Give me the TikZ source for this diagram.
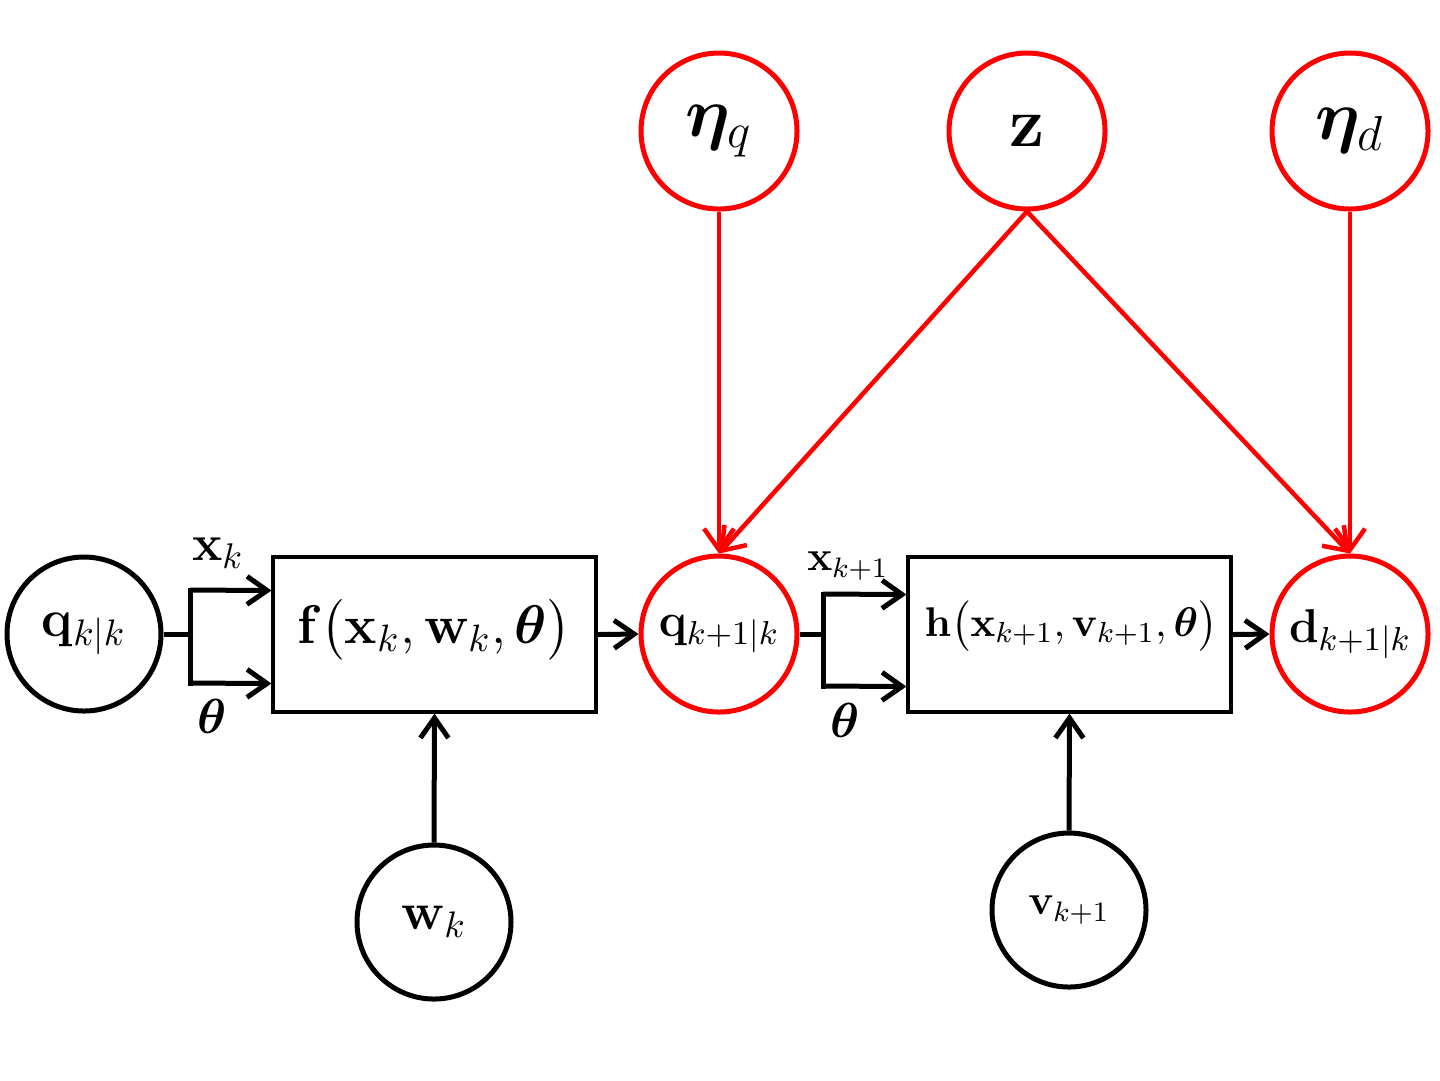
\RequirePackage{fix-cm}
\documentclass[tikz,border=0pt]{standalone}
\usepackage{amsmath,bm}
\usetikzlibrary{arrows.meta,calc}
\newcommand{\myfs}[1]{\fontsize{#1}{#1}\selectfont}
\begin{document}
\begin{tikzpicture}[x=0.1mm,y=-0.1mm,
  blackcirc/.style={circle,draw=black,line width=0.5mm,minimum size=15.4mm,inner sep=0pt},
  redcirc/.style={circle,draw=red,line width=0.5mm,minimum size=15.6mm,inner sep=0pt},
  fbox/.style={rectangle,draw=black,line width=0.32mm,minimum width=32.3mm,minimum height=15.5mm,inner sep=0pt},
  conn/.style={draw=black,line width=0.5mm},
  arr/.style={draw=black,line width=0.5mm,-{Straight Barb[length=2.0mm,width=2.8mm]}},
  rarr/.style={draw=red,line width=0.45mm,-{Straight Barb[length=2.1mm,width=3.0mm]}}
]
\useasboundingbox (0,0) rectangle (1440,1080);
% nodes
\node[blackcirc,font=\myfs{15}] (qkk) at (84,634) {$\mathbf{q}_{k|k}$};
\node[fbox] (f) at (434.5,634.5) {};
\node[font=\myfs{15.5}] (ftext) at (434,630) {$\mathbf{f}\bigl(\mathbf{x}_k,\mathbf{w}_k,\bm{\theta}\bigr)$};
\node[redcirc,font=\myfs{13.5}] (qk1) at (719,634) {$\mathbf{q}_{k+1|k}$};
\node[fbox] (h) at (1069.5,634.5) {};
\node[font=\myfs{11.8}] (htext) at (1071,626) {$\mathbf{h}\bigl(\mathbf{x}_{k+1},\mathbf{v}_{k+1},\bm{\theta}\bigr)$};
\node[redcirc,font=\myfs{13.5}] (d) at (1350,634) {$\mathbf{d}_{k+1|k}$};
\node[redcirc,font=\myfs{20}] (etaq) at (719,131) {$\bm{\eta}_q$};
\node[redcirc,font=\myfs{20}] (z) at (1027,131) {$\mathbf{z}$};
\node[redcirc,font=\myfs{20}] (etad) at (1350,131) {$\bm{\eta}_d$};
\node[blackcirc,font=\myfs{15}] (wk) at (434,922) {$\mathbf{w}_k$};
\node[blackcirc,font=\myfs{12}] (vk) at (1069,910) {$\mathbf{v}_{k+1}$};
% labels
\node[font=\myfs{14.5}] (lxk) at (218,553) {$\mathbf{x}_k$};
\node[font=\myfs{14}] (lth1) at (212,716) {$\bm{\theta}$};
\node[font=\myfs{12}] (lxk1) at (848,566) {$\mathbf{x}_{k+1}$};
\node[font=\myfs{14}] (lth2) at (845,720) {$\bm{\theta}$};
% branch points
\coordinate (b1) at (190,634);
\coordinate (b2) at (823,634);
% left branch
\draw[conn] (qkk.east) -- (b1);
\draw[arr] ($(b1)+(0,-44)$) -- ($(f.west)+(0,-44)$);
\draw[arr] ($(b1)+(0,49)$) -- ($(f.west)+(0,49)$);
\draw[conn] ($(b1)+(0,-46.5)$) -- ($(b1)+(0,51.5)$);
% middle
\draw[arr] (f.east) -- (qk1.west);
\draw[conn] (qk1.east) -- (b2);
\draw[arr] ($(b2)+(0,-40)$) -- ($(h.west)+(0,-40)$);
\draw[arr] ($(b2)+(0,52)$) -- ($(h.west)+(0,52)$);
\draw[conn] ($(b2)+(0,-42.5)$) -- ($(b2)+(0,54.5)$);
\draw[arr] (h.east) -- (d.west);
% bottom
\draw[arr] (wk.north) -- (f.south);
\draw[arr] (vk.north) -- (h.south);
% red
\draw[rarr] (etaq.south) -- (qk1.north);
\draw[rarr] (z.south) -- (qk1.north);
\draw[rarr] (z.south) -- (d.north);
\draw[rarr] (etad.south) -- (d.north);
\end{tikzpicture}
\end{document}
